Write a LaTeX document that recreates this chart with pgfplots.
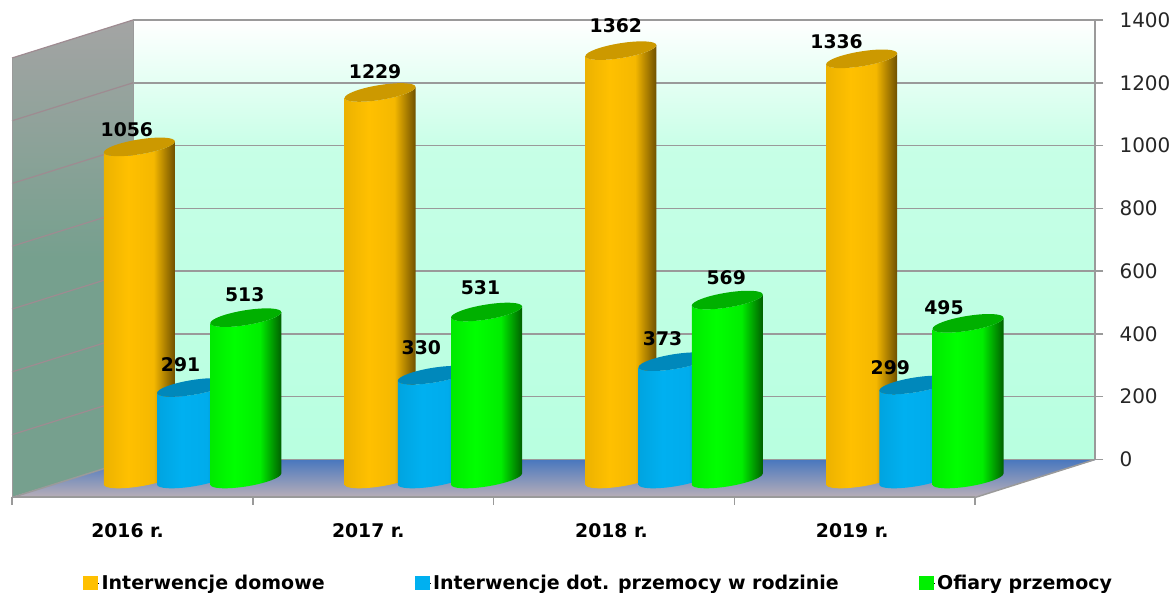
\documentclass[border=0pt]{standalone}
\usepackage{fontspec}
\setmainfont{DejaVu Sans}
\usepackage{pgfplots}
\pgfplotsset{compat=1.18}
\definecolor{cYel}{HTML}{FFC000}
\definecolor{cBlu}{HTML}{00B0F0}
\definecolor{cGrn}{HTML}{00F000}
\definecolor{yA}{HTML}{ECB200}\definecolor{yB}{HTML}{FFC000}\definecolor{yC}{HTML}{F5B800}\definecolor{yD}{HTML}{6F5000}
\definecolor{bA}{HTML}{00A4E0}\definecolor{bB}{HTML}{00B0F0}\definecolor{bC}{HTML}{00ACEC}\definecolor{bD}{HTML}{0080B0}
\definecolor{gA}{HTML}{00EA00}\definecolor{gB}{HTML}{00FF00}\definecolor{gC}{HTML}{00EE00}\definecolor{gD}{HTML}{006000}
\definecolor{capY}{HTML}{CC9900}\definecolor{capB}{HTML}{0088BB}\definecolor{capG}{HTML}{00B000}
\definecolor{wallT}{HTML}{FFFFFF}\definecolor{wallB}{HTML}{B8FFE0}
\definecolor{lwT}{HTML}{A4A4A4}\definecolor{lwB}{HTML}{76A08E}
\definecolor{flT}{HTML}{4A78BE}\definecolor{flB}{HTML}{B8AEB8}
\definecolor{gridc}{HTML}{9A9A9A}
\pgfdeclarehorizontalshading{shY}{100bp}{color(0bp)=(yA);color(25bp)=(yA);color(42bp)=(yB);color(60bp)=(yC);color(75bp)=(yD);color(100bp)=(yD)}
\pgfdeclarehorizontalshading{shB}{100bp}{color(0bp)=(bA);color(25bp)=(bA);color(42bp)=(bB);color(60bp)=(bC);color(75bp)=(bD);color(100bp)=(bD)}
\pgfdeclarehorizontalshading{shG}{100bp}{color(0bp)=(gA);color(25bp)=(gA);color(42bp)=(gB);color(60bp)=(gC);color(75bp)=(gD);color(100bp)=(gD)}
\colorlet{wallM}{wallB!80!wallT}
\pgfdeclareverticalshading{shWall}{100bp}{color(0bp)=(wallB);color(25bp)=(wallB);color(60bp)=(wallM);color(75bp)=(wallT);color(100bp)=(wallT)}
\pgfdeclareverticalshading{shLeft}{100bp}{color(0bp)=(lwB);color(25bp)=(lwB);color(50bp)=(lwB);color(75bp)=(lwT);color(100bp)=(lwT)}
\pgfdeclareverticalshading{shFloor}{100bp}{color(0bp)=(flB);color(25bp)=(flB);color(75bp)=(flT);color(100bp)=(flT)}
\newdimen\cylh
\newcommand\Ybelow[2]{\dimen0=#2pt \advance\dimen0 by -\cylh \edef#1{\the\dimen0}}
\newcommand\defcyl[3]{%
 \pgfdeclareplotmark{#1}{%
  \cylh=\rawy pt \cylh=0.3145\cylh
  \Ybelow\cyA{-5.5}\Ybelow\cyB{-9.64}\Ybelow\cyC{-10.54}\Ybelow\cyD{-7.5}%
  \Ybelow\cyE{-4.46}\Ybelow\cyF{1.36}\Ybelow\cyG{5.5}%
  \path[draw=none,shade,shading=#2] (-35.5pt,-5.5pt) -- (-35.5pt,\cyA)
     .. controls (-35.5pt,\cyB) and (-19.6pt,\cyC) .. (0pt,\cyD)
     .. controls (19.6pt,\cyE) and (35.5pt,\cyF) .. (35.5pt,\cyG)
     -- (35.5pt,5.5pt)
     .. controls (35.5pt,1.36pt) and (19.6pt,-4.46pt) .. (0pt,-7.5pt)
     .. controls (-19.6pt,-10.54pt) and (-35.5pt,-9.64pt) .. (-35.5pt,-5.5pt) -- cycle;
  \path[draw=none,fill=#3] (35.5pt,5.5pt)
     .. controls (35.5pt,9.64pt) and (19.6pt,10.54pt) .. (0pt,7.5pt)
     .. controls (-19.6pt,4.46pt) and (-35.5pt,-1.36pt) .. (-35.5pt,-5.5pt)
     .. controls (-35.5pt,-9.64pt) and (-19.6pt,-10.54pt) .. (0pt,-7.5pt)
     .. controls (19.6pt,-4.46pt) and (35.5pt,1.36pt) .. (35.5pt,5.5pt) -- cycle;
 }}
\defcyl{cylY}{shY}{capY}
\defcyl{cylB}{shB}{capB}
\defcyl{cylG}{shG}{capG}
\newcommand\lab{\fontsize{18.8}{22}\selectfont\bfseries}
\newcommand\leg{\fontsize{19}{22}\selectfont\bfseries}
\pgfkeys{/pgf/number format/.cd,1000 sep={},assume math mode=true}
\pgfplotsset{cyl/.style={only marks,scatter,mark=#1,scatter src=y,
   visualization depends on={value \thisrow{y}\as\rawy},
   visualization depends on={value \thisrow{dx}\as\dx},
   visualization depends on={value \thisrow{dy}\as\dy},
   nodes near coords={\pgfmathprintnumber{\pgfplotspointmeta}},
   every node near coord/.style={anchor=center,font=\lab,text=black,xshift=\dx pt,yshift=\dy pt,inner sep=0pt}}}
\begin{document}
\begin{tikzpicture}
\useasboundingbox (0,0) rectangle (1175pt,593pt);
% walls and floor, in pixel coordinates of the picture
\begin{axis}[at={(0pt,0pt)},anchor=south west,scale only axis,width=1175pt,height=593pt,
  xmin=0,xmax=1175,ymin=0,ymax=593,y dir=reverse,hide axis,clip=false]
\shade[shading=shLeft] (axis cs:133,20) -- (axis cs:12,58) -- (axis cs:12,497) -- (axis cs:133,460) -- cycle;
\shade[shading=shWall] (axis cs:133,20) rectangle (axis cs:1095,460);
\shade[shading=shFloor] (axis cs:133,460) -- (axis cs:1095,460) -- (axis cs:975,497) -- (axis cs:12,497) -- cycle;
\draw[gridc!90!purple,line width=1.2pt] (axis cs:133,396.7)--(axis cs:12,434.7) (axis cs:133,333.9)--(axis cs:12,371.9) (axis cs:133,271.1)--(axis cs:12,309.1) (axis cs:133,208.3)--(axis cs:12,246.3) (axis cs:133,145.5)--(axis cs:12,183.5) (axis cs:133,82.8)--(axis cs:12,120.8) (axis cs:133,20)--(axis cs:12,58);
\draw[gridc,line width=1pt] (axis cs:12,58)--(axis cs:12,497) (axis cs:133,20)--(axis cs:133,460);
\draw[gridc,line width=1.5pt] (axis cs:12,497.5)--(axis cs:133,459.5) (axis cs:975,497.5)--(axis cs:1095,459.5);
\end{axis}
% value axis on the back wall
\begin{axis}[at={(133pt,133.5pt)},anchor=south west,scale only axis,width=962pt,height=439.5pt,
  xmin=0,xmax=1,ymin=0,ymax=1400,ytick={0,200,...,1400},xtick=\empty,
  axis y line*=right,axis x line=none,
  ymajorgrids,grid style={gridc,line width=1.5pt},
  axis line style={gridc,line width=1.5pt,-},
  tick style={gridc,line width=1.5pt},tick align=outside,major tick length=8pt,
  yticklabel style={anchor=west,font=\fontsize{20}{24}\selectfont,text=black!85,xshift=13pt}]
\addplot[draw=none,forget plot] coordinates {(0,0)(1,1400)};
\end{axis}
% cylinders
\begin{axis}[at={(12pt,96pt)},anchor=south west,scale only axis,width=963pt,height=458.3pt,
  xmin=0,xmax=4,ymin=-57.2,ymax=1400,clip=false,
  axis y line=none,axis x line*=bottom,
  axis line style={gridc,line width=1.5pt,-},
  xtick={0.48,1.48,2.49,3.49},xticklabels={2016 r.,2017 r.,2018 r.,2019 r.},
  minor xtick={0,1,2,3,4},
  major tick length=0pt,minor tick length=8pt,tick align=outside,
  tick style={gridc,line width=1.5pt},
  xticklabel style={font=\lab,text=black,anchor=center,yshift=-34pt},
  legend columns=3,legend cell align=left,
  legend style={at={(0.0737,-0.1876)},anchor=west,draw=none,fill=none,inner sep=0pt,font=\leg,
    /tikz/every even column/.append style={column sep=78pt}},
  ]
\addplot[cyl=cylY,legend image code/.code={\path (0pt,0pt) -- (16pt,0pt);\fill[cYel] (0pt,-6pt) rectangle (14pt,7pt);}] table[x=x,y=y] {
x y dx dy
0.529 1056 -12.5 17
1.529 1229 -5 21
2.529 1362 -5 25
3.529 1336 -25 17
};
\addlegendentry{Interwencje domowe\rule{10pt}{0pt}}
\addplot[cyl=cylB,legend image code/.code={\path (0pt,0pt) -- (16pt,0pt);\fill[cBlu] (0pt,-6pt) rectangle (14pt,7pt);}] table[x=x,y=y] {
x y dx dy
0.75 291 -12 23
1.75 330 -12 28
2.75 373 -11.5 23
3.75 299 -24.5 17
};
\addlegendentry{Interwencje dot. przemocy w rodzinie}
\addplot[cyl=cylG,legend image code/.code={\path (0pt,0pt) -- (16pt,0pt);\fill[cGrn] (0pt,-6pt) rectangle (14pt,7pt);}] table[x=x,y=y] {
x y dx dy
0.971 513 -1 23
1.971 531 -6 24
2.971 569 -1 22
3.971 495 -24 16
};
\addlegendentry{Ofiary przemocy}
\end{axis}
\end{tikzpicture}
\end{document}
